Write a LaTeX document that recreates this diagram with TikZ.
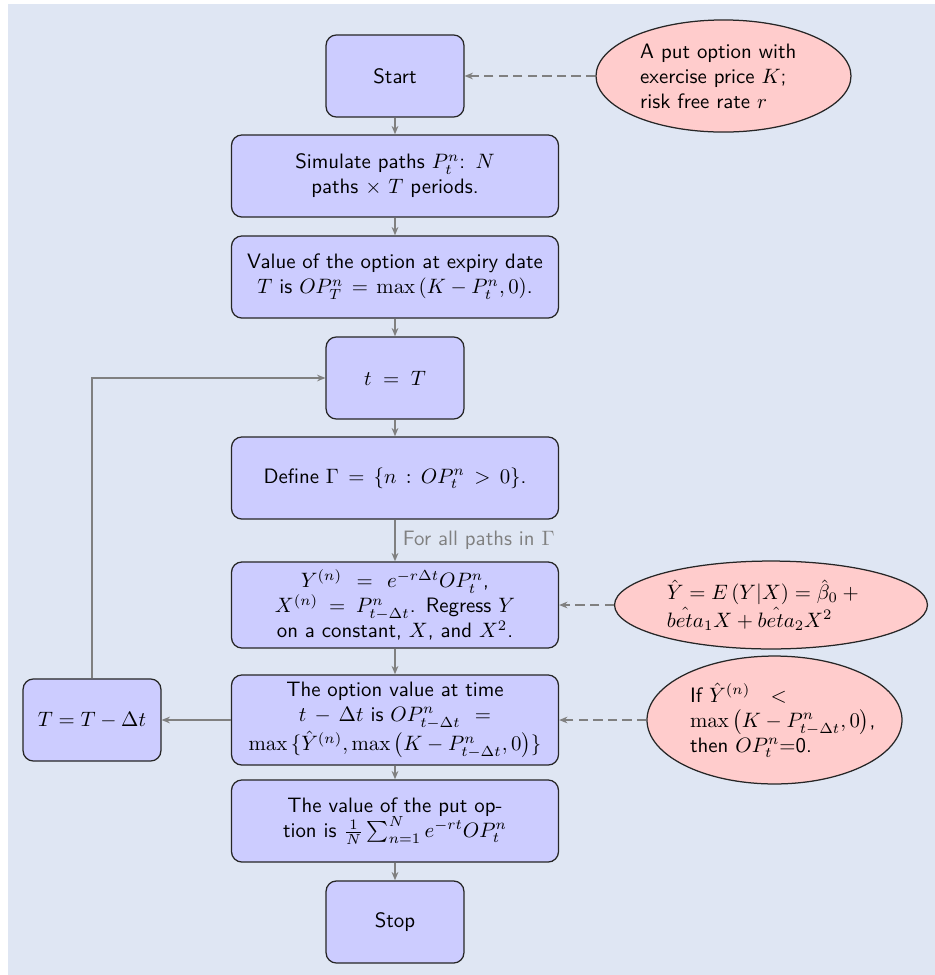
\documentclass[tikz,border=0pt]{standalone}
\usetikzlibrary{shapes.geometric,arrows.meta}
\definecolor{bgblue}{RGB}{223,230,243}
\begin{document}
\begin{tikzpicture}[x=0.48pt,y=-0.48pt,
  font=\sffamily,
  box/.style={draw=black!85, line width=0.6pt, fill=blue!20, rounded corners=5pt, align=center, minimum height=39.4pt},
  wide/.style={box, text width=150.3pt},
  small/.style={box, minimum width=66.2pt},
  note/.style={ellipse, draw=black!85, fill=red!20, align=left, line width=0.6pt, inner sep=0pt},
  arr/.style={draw=gray, line width=0.9pt, -{Stealth[length=4pt,width=3.2pt]}},
  darr/.style={arr, dash pattern=on 4.5pt off 2.5pt}]
\useasboundingbox (0,0) rectangle (935,975);
\fill[bgblue] (8,4) rectangle (935,975);

\node[small] (start) at (395,76) {Start};
\node[wide] (sim) at (395,176) {Simulate paths $P_t^n$:\enspace$N$\\ paths $\times$ $T$ periods.};
\node[wide] (val) at (395,277) {Value of the option at expiry date\\ $T$ is $OP_T^n = \max\left(K-P_t^n,0\right)$.};
\node[small] (tT) at (395,378) {$t \;=\; T$};
\node[wide] (def) at (395,478) {Define $\Gamma = \{n : OP_t^n > 0\}$.};
\node[wide, minimum height=41.3pt] (reg) at (395,605) {$Y^{(n)} = e^{-r\Delta t}OP_t^n$,\\ $X^{(n)} = P_{t-\Delta t}^n$. Regress $Y$\\ on a constant, $X$, and $X^2$.};
\node[wide, minimum height=43.2pt] (opt) at (395,720) {The option value at time\\ $t - \Delta t$ is $OP_{t-\Delta t}^n =$\\ $\max\,\{\hat{Y}^{(n)}, \max\left(K-P_{t-\Delta t}^n,0\right)\}$};
\node[small] (TT) at (92,720) {$T = T - \Delta t$};
\node[wide] (put) at (395,821) {The value of the put op-\\tion is $\frac{1}{N}\sum_{n=1}^N e^{-rt}OP_t^n$};
\node[small] (stop) at (395,922) {Stop};

\node[note, text width=80pt, minimum width=122.4pt, minimum height=53.8pt] (n1) at (723.5,76) {A put option with\\ exercise price $K$;\\ risk free rate $r$};
\node[note, text width=100pt, minimum width=150.2pt, minimum height=42.2pt] (n2) at (771,605) {$\hat{Y} = E\left(Y|X\right) = \hat{\beta}_0 +{}$\\ $\hat{beta}_1X + \hat{beta}_2X^2$};
\node[note, text width=81pt, minimum width=122.4pt, minimum height=61.4pt] (n3) at (774.5,720) {If $\hat{Y}^{(n)}\hspace{7pt} <$\\ $\max\left(K-P_{t-\Delta t}^n,0\right)$,\\ then $OP_t^n$=0.};

\draw[arr] (start) -- (sim);
\draw[arr] (sim) -- (val);
\draw[arr] (val) -- (tT);
\draw[arr] (tT) -- (def);
\draw[arr] (def) -- node[right, text=gray] {For all paths in $\Gamma$} (reg);
\draw[arr] (reg) -- (opt);
\draw[arr] (opt) -- (put);
\draw[arr] (put) -- (stop);
\draw[arr] (opt.west) -- (TT.east);
\draw[arr] (TT.north) |- (tT.west);

\draw[darr] (n1.west) -- (start.east);
\draw[darr] (n2.west) -- (reg.east);
\draw[darr] (n3.west) -- (opt.east);
\end{tikzpicture}
\end{document}
